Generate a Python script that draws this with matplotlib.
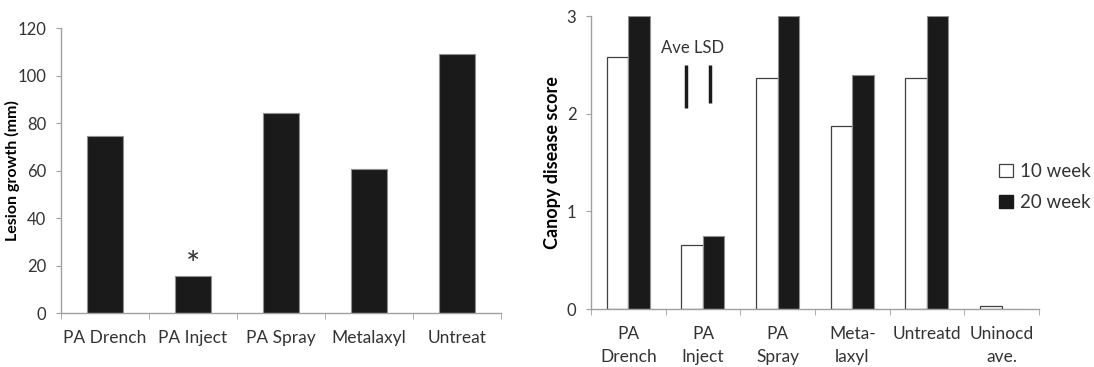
import matplotlib
matplotlib.use('Agg')
import matplotlib.pyplot as plt
import numpy as np
from matplotlib.patches import Patch

plt.rcParams['font.family'] = ['Lato', 'DejaVu Sans']

# left panel: lesion growth
lesionCats = ['PA Drench', 'PA Inject', 'PA Spray', 'Metalaxyl', 'Untreat']
lesionGrowth = [74.8, 15.5, 84.3, 60.6, 109.3]
starCat = 1
starY = 20

# right panel: canopy disease score
canopyCats = ['PA\nDrench', 'PA\nInject', 'PA\nSpray', 'Meta-\nlaxyl', 'Untreatd', 'Uninocd\nave.']
week10 = [2.58, 0.66, 2.37, 1.87, 2.37, 0.035]
week20 = [3.0, 0.75, 3.0, 2.40, 3.0, 0.0]
lsdX = [0.77, 1.09]
lsdTop = [2.50, 2.50]
lsdBottom = [2.06, 2.105]

spineCol = '#a0a0a0'
textCol = '#333333'
barCol = '#1a1a1a'

fig = plt.figure(figsize=(10.94, 3.67), dpi=100)


def styleAxes(ax, n):
    for s in ['top', 'right']:
        ax.spines[s].set_visible(False)
    for s in ['left', 'bottom']:
        ax.spines[s].set_color(spineCol)
        ax.spines[s].set_linewidth(1.0)
    ax.set_xlim(-0.5, n - 0.5)
    ax.set_xticks(np.arange(n))
    ax.set_xticks(np.arange(n + 1) - 0.5, minor=True)
    ax.tick_params(axis='x', which='major', length=0, pad=12, labelsize=12.5, labelcolor=textCol)
    ax.tick_params(axis='x', which='minor', length=4.5, color=spineCol, direction='out')
    ax.tick_params(axis='y', which='major', length=3.5, color=spineCol, direction='out', pad=7,
                   labelsize=12, labelcolor=textCol)


# ---- left chart
ax1 = fig.add_axes([0.0558, 0.1463, 0.4019, 0.7766])
x1 = np.arange(len(lesionCats))
ax1.bar(x1, lesionGrowth, width=0.41, color=barCol, edgecolor='#909090', linewidth=0.8)
styleAxes(ax1, len(lesionCats))
ax1.set_ylim(0, 120)
ax1.set_yticks(range(0, 121, 20))
ax1.set_xticklabels(lesionCats)
ax1.set_ylabel('Lesion growth (mm)', fontsize=11.5, fontweight='bold', color='black')
ax1.yaxis.set_label_coords(-0.094, 0.5)
ax1.text(starCat, starY, '*', ha='center', va='center', fontsize=24, color=textCol)

# ---- right chart
ax2 = fig.add_axes([0.5402, 0.158, 0.4095, 0.7984])
x2 = np.arange(len(canopyCats))
w = 0.288
ax2.bar(x2 - w / 2, week10, width=w, color='white', edgecolor='#404040', linewidth=0.9)
ax2.bar(x2 + w / 2, week20, width=w, color=barCol, edgecolor='#909090', linewidth=0.8)
styleAxes(ax2, len(canopyCats))
ax2.set_ylim(0, 3)
ax2.set_yticks([0, 1, 2, 3])
ax2.set_xticklabels(canopyCats, linespacing=1.6)
ax2.set_ylabel('Canopy disease score', fontsize=13, fontweight='bold', color='black')
ax2.yaxis.set_label_coords(-0.066, 0.5)

for xx, t, b in zip(lsdX, lsdTop, lsdBottom):
    ax2.plot([xx, xx], [b, t], color=barCol, lw=2.5, solid_capstyle='butt')
ax2.text(np.mean(lsdX) - 0.07, 2.675, 'Ave LSD', ha='center', va='center', fontsize=12, color=textCol)

handles = [Patch(facecolor='white', edgecolor='#404040', linewidth=0.9, label='10 week'),
           Patch(facecolor=barCol, edgecolor=barCol, label='20 week')]
ax2.legend(handles=handles, loc='center left', bbox_to_anchor=(0.895, 0.415), frameon=False,
           fontsize=13.5, handlelength=0.7, handleheight=0.7, handletextpad=0.4,
           labelspacing=0.75, labelcolor=textCol, borderaxespad=0)

fig.savefig('out.png', dpi=100)
